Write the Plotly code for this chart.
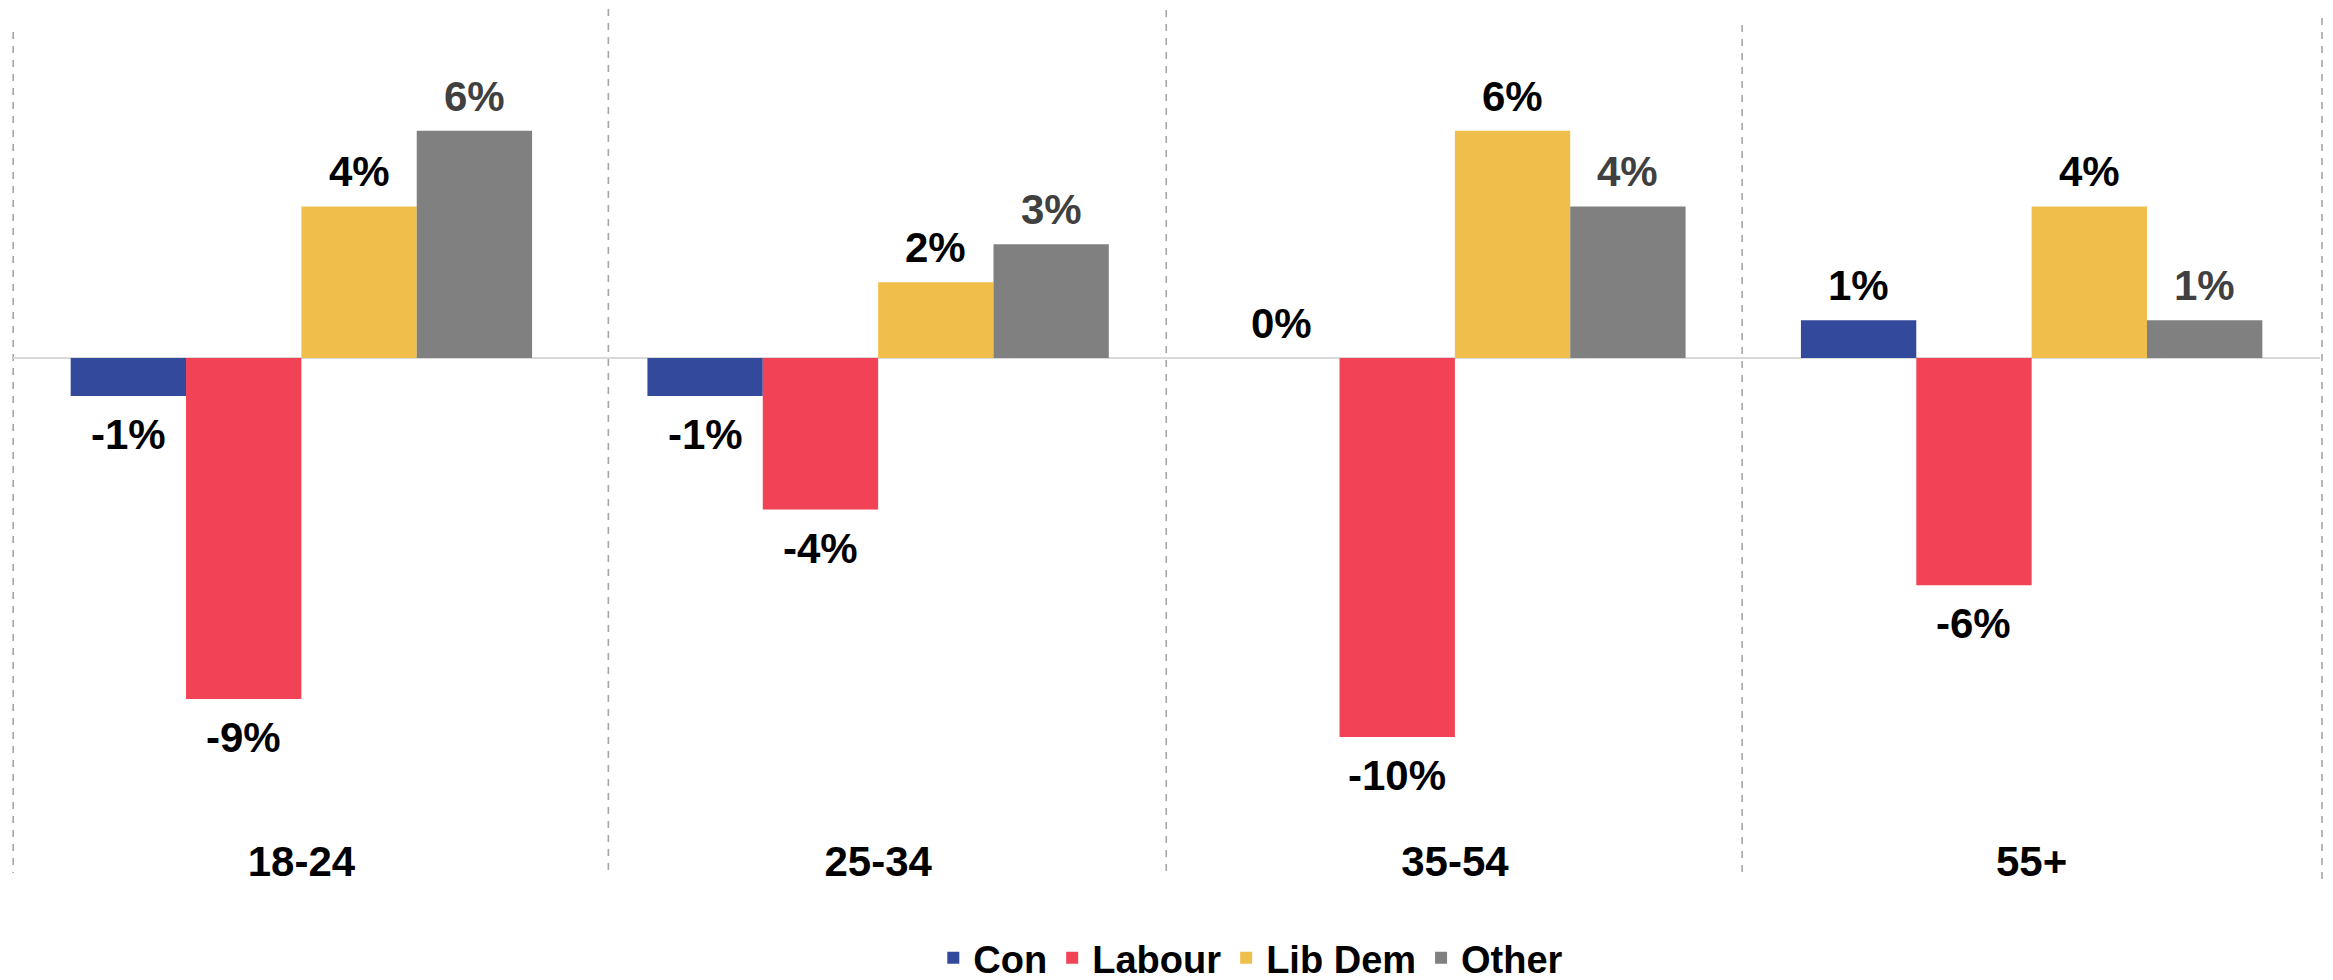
import plotly.graph_objects as go

categories = ["18-24", "25-34", "35-54", "55+"]
series_names = ["Con", "Labour", "Lib Dem", "Other"]
con = [-1, -1, 0, 1]
labour = [-9, -4, -10, -6]
lib_dem = [4, 2, 6, 4]
other = [6, 3, 4, 1]

series_values = [con, labour, lib_dem, other]
colors = ["#33499B", "#F14355", "#F0BE4A", "#808080"]
label_colors = ["#000000", "#000000", "#000000", "#404040"]

FONT = "Liberation Sans, Arial, sans-serif"

# the page body adds an 8px margin; work in page pixels and convert
OFF = 8
W, H = 2333 - OFF, 980 - OFF
L, R, T, B = 12.5 - OFF, 2320 - OFF, 17 - OFF, 840 - OFF

fig = go.Figure()
for name, vals, col in zip(series_names, series_values, colors):
    fig.add_trace(go.Bar(
        x=categories, y=vals, name=name,
        marker=dict(color=col, line=dict(width=0)),
        hoverinfo="x+y+name",
    ))

# value labels derived from the data, positioned at each grouped bar
n = len(series_names)
bargap = 0.2
bw = (1 - bargap) / n
annotations = []
for i, (vals, lc) in enumerate(zip(series_values, label_colors)):
    off = -(1 - bargap) / 2 + bw * (i + 0.5)
    for j, v in enumerate(vals):
        pos = v >= 0
        annotations.append(dict(
            x=j + off, y=v, xref="x", yref="y",
            text=f"{v:.0f}%", showarrow=False,
            yanchor="bottom" if pos else "top",
            yshift=9 if pos else -13,
            font=dict(family=FONT, size=42, color=lc, weight="bold"),
        ))

# dashed group separators (page pixel positions)
sep_x = [12.7, 608, 1166, 1742, 2322]
sep_top = [32, 9, 10, 25, 18]
sep_bot = [873, 877, 878, 879, 885]
shapes = []
for xs, yt, yb in zip(sep_x, sep_top, sep_bot):
    px = (xs - OFF - L) / (R - L)
    shapes.append(dict(
        type="line", xref="paper", yref="paper",
        x0=px, x1=px,
        y0=(B - (yt - OFF)) / (B - T), y1=(B - (yb - OFF)) / (B - T),
        line=dict(color="#A6A6A6", width=1.6, dash="7px,7px"),
        layer="below",
    ))

fig.update_layout(
    width=W, height=H,
    margin=dict(l=L, r=W - R, t=T, b=H - B, autoexpand=False),
    paper_bgcolor="white", plot_bgcolor="white",
    barmode="group", bargap=bargap, bargroupgap=0,
    font=dict(family=FONT, color="#000000"),
    showlegend=True,
    legend=dict(
        orientation="h", x=(933 - OFF - L) / (R - L), xanchor="left",
        y=(B - (958 - OFF)) / (B - T), yanchor="middle",
        font=dict(family=FONT, size=38, color="#000000", weight="bold"),
        traceorder="normal", itemclick=False, itemdoubleclick=False,
    ),
    annotations=annotations,
    shapes=shapes,
)
fig.update_xaxes(
    showgrid=False, showline=False, ticks="", zeroline=False,
    ticklabelstandoff=-7,
    tickfont=dict(family=FONT, size=42, color="#000000", weight="bold"),
)
fig.update_yaxes(
    range=[-12.72, 9.0], showgrid=False, showticklabels=False, ticks="",
    showline=False, zeroline=True, zerolinecolor="#D9D9D9", zerolinewidth=2,
)

fig.write_html("out.html")
